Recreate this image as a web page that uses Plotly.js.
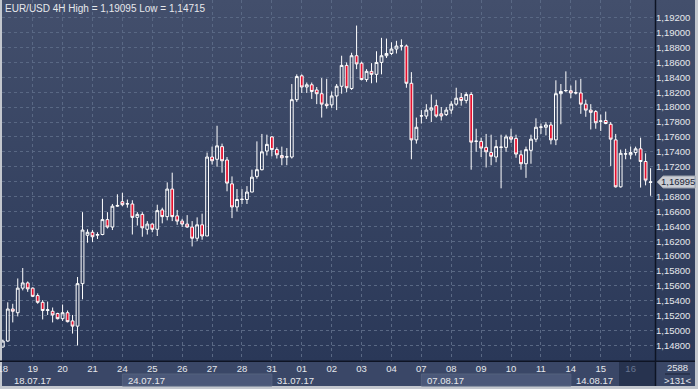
<!DOCTYPE html>
<html>
<head>
<meta charset="utf-8">
<script src="https://cdn.plot.ly/plotly-3.0.1.min.js"></script>
<style>
html,body{margin:0;padding:0;background:#c3c7ce;}
#chart{width:698px;height:389px;}
</style>
</head>
<body>
<div id="chart"></div>
<script>
// ---- data ----
const titleText = 'EUR/USD 4H High = 1,19095 Low = 1,14715';
const dayLabels = ['18','19','20','21','24','25','26','27','28','31','01','02','03','04','07','08','09','10','11','14','15','16'];
const weekLabels = ['18.07.17','24.07.17','31.07.17','07.08.17','14.08.17'];
const priceTicks = [1.148,1.150,1.152,1.154,1.156,1.158,1.160,1.162,1.164,1.166,1.168,1.170,1.172,1.174,1.176,1.178,1.180,1.182,1.184,1.186,1.188,1.190,1.192];
const lastPrice = 1.16995;
const barCount = '2588';
const visibleBars = '>131<';

const open = [
1.1478,1.1486,1.1529,1.1524,1.1557,1.1564,1.1557,1.1547,1.1538,1.1527,
1.1526,1.1523,1.1516,1.1524,1.1513,1.1506,1.1563,1.1628,1.1632,1.1628,
1.1629,1.1649,1.1639,1.1667,1.1673,1.1670,1.1670,1.1652,1.1656,1.1636,
1.1643,1.1636,1.1662,1.1653,1.1690,1.1654,1.1647,1.1643,1.1639,1.1624,
1.1642,1.1627,1.1733,1.1730,1.1747,1.1729,1.1697,1.1666,1.1676,1.1676,
1.1686,1.1707,1.1716,1.1741,1.1760,1.1743,1.1735,1.1733,1.1733,1.1810,
1.1842,1.1827,1.1830,1.1823,1.1818,1.1804,1.1803,1.1815,1.1828,1.1856,
1.1825,1.1869,1.1859,1.1837,1.1848,1.1844,1.1860,1.1869,1.1872,1.1878,
1.1882,1.1882,1.1832,1.1756,1.1788,1.1788,1.1796,1.1802,1.1791,1.1790,
1.1796,1.1804,1.1813,1.1809,1.1817,1.1754,1.1754,1.1746,1.1739,1.1733,
1.1746,1.1746,1.1760,1.1758,1.1736,1.1724,1.1742,1.1757,1.1773,1.1773,
1.1776,1.1756,1.1818,1.1822,1.1822,1.1819,1.1819,1.1804,1.1796,1.1794,
1.1781,1.1782,1.1777,1.1756,1.1693,1.1737,1.1736,1.1739,1.1744,1.1727,
1.16990];
const high = [
1.1488,1.1538,1.1536,1.1570,1.1584,1.1566,1.1558,1.1550,1.1541,1.1539,
1.1531,1.1524,1.1535,1.1527,1.1521,1.1572,1.1659,1.1636,1.1635,1.1632,
1.1677,1.1659,1.1670,1.1683,1.1685,1.1676,1.1675,1.1659,1.1659,1.1647,
1.1644,1.1669,1.1665,1.1699,1.1712,1.1662,1.1650,1.1655,1.1647,1.1652,
1.1657,1.1739,1.1747,1.1775,1.1751,1.1733,1.1707,1.1690,1.1690,1.1694,
1.1716,1.1754,1.1764,1.1763,1.1761,1.1746,1.1747,1.1745,1.1831,1.1844,
1.1844,1.1833,1.1833,1.1827,1.1839,1.1838,1.1821,1.1831,1.1869,1.1860,
1.1873,1.19095,1.1861,1.1851,1.1859,1.1875,1.1893,1.1892,1.1887,1.1889,
1.1891,1.1884,1.1847,1.1786,1.1796,1.1804,1.1817,1.1810,1.1800,1.1800,
1.1808,1.1826,1.1819,1.1820,1.1820,1.1771,1.1759,1.1764,1.1763,1.1756,
1.1763,1.1763,1.1771,1.1763,1.1742,1.1747,1.1763,1.1785,1.1778,1.1780,
1.1780,1.1836,1.1831,1.1848,1.1829,1.1836,1.1838,1.1810,1.1804,1.1796,
1.1790,1.1794,1.1780,1.1764,1.1743,1.1744,1.1747,1.1747,1.1759,1.1738,
1.1718];
const low = [
1.1477,1.1485,1.1511,1.1519,1.1554,1.1552,1.1545,1.1536,1.1515,1.1521,
1.1511,1.1515,1.1513,1.1511,1.1496,1.1480,1.1542,1.1618,1.1619,1.1623,
1.1628,1.1637,1.1635,1.1666,1.1667,1.1665,1.1629,1.1641,1.1626,1.1629,
1.1632,1.1627,1.1644,1.1648,1.1647,1.1642,1.1639,1.1638,1.1613,1.1620,
1.1622,1.1627,1.1723,1.1720,1.1712,1.1687,1.1651,1.1660,1.1670,1.1670,
1.1686,1.1704,1.1715,1.1735,1.1734,1.1731,1.1722,1.1722,1.1731,1.1807,
1.1819,1.1819,1.1811,1.1804,1.1786,1.1798,1.1799,1.1796,1.1818,1.1820,
1.1823,1.1851,1.1836,1.1834,1.1832,1.1833,1.1844,1.1866,1.1870,1.1872,
1.1876,1.1826,1.1730,1.1751,1.1778,1.1784,1.1780,1.1786,1.1782,1.1788,
1.1791,1.1802,1.1802,1.1805,1.1716,1.1740,1.1733,1.1719,1.1722,1.1726,
1.1691,1.1740,1.1752,1.1732,1.1716,1.1705,1.1724,1.1753,1.1764,1.1762,
1.1750,1.1749,1.1777,1.1820,1.1812,1.1817,1.1791,1.1787,1.1770,1.1771,
1.1768,1.1777,1.1721,1.1692,1.1692,1.1730,1.1730,1.1735,1.1692,1.1695,
1.1681];
const close = [
1.1486,1.1529,1.1526,1.1557,1.1564,1.1556,1.1546,1.1538,1.1527,1.1528,
1.1521,1.1516,1.1524,1.1512,1.1506,1.1563,1.1635,1.1632,1.1626,1.1629,
1.1649,1.1639,1.1667,1.1668,1.1669,1.16703,1.1652,1.1656,1.1638,1.1643,
1.1636,1.1661,1.1653,1.1690,1.1653,1.1647,1.1643,1.1639,1.1624,1.1642,
1.1627,1.1733,1.1728,1.1748,1.1728,1.1698,1.1666,1.1676,1.16763,1.1686,
1.1706,1.1716,1.1740,1.1750,1.1743,1.1736,1.1732,1.17333,1.1810,1.1841,
1.1827,1.1830,1.1821,1.1818,1.1804,1.1802,1.1815,1.1828,1.1856,1.1826,
1.1869,1.1858,1.1837,1.1848,1.1844,1.1860,1.1869,1.1872,1.1878,1.1882,
1.18823,1.1832,1.1756,1.1773,1.17883,1.1796,1.1799,1.1788,1.1788,1.1796,
1.1804,1.1812,1.1809,1.1817,1.1753,1.17543,1.1745,1.1740,1.1734,1.1747,
1.17463,1.1760,1.1757,1.1737,1.1724,1.1743,1.1757,1.1773,1.17733,1.1776,
1.1756,1.1818,1.1821,1.18223,1.1819,1.18193,1.1804,1.1796,1.1793,1.1779,
1.17813,1.1778,1.1757,1.1693,1.1738,1.17373,1.1739,1.1744,1.1727,1.1702,
1.16995];

// ---- geometry ----
const W = 698, H = 389;
const M = {l: 2, r: 43, t: 0, b: 28};
const PW = W - M.l - M.r, PH = H - M.t - M.b;
const xr = [-0.16, 130.89];
const yr = [1.14592, 1.19438];
const fx = px => (px - M.l) / PW;
const fy = py => (M.t + PH - py) / PH;
const kx = k => (k - xr[0]) / (xr[1] - xr[0]);          // index -> paper x
const py = p => M.t + PH * (yr[1] - p) / (yr[1] - yr[0]); // price -> pixel y
const perDay = 6;
const fmt = v => v.toFixed(5).replace('.', ',');

const idx = open.map((_, i) => i);
const tickvals = dayLabels.map((_, i) => i * perDay);
const ticktext = dayLabels.map((d, i) => i === dayLabels.length - 1 ? '<span style="color:#67758f">' + d + '</span>' : d);
// the price tag hides the tick label it covers
const yTickText = priceTicks.map(v => Math.abs(v - lastPrice) < 0.0012 ? '' : fmt(v));

const FONT = '"Liberation Sans", Arial, sans-serif';
const TXT = '#e6e8ec';

const bgSvg = 'data:image/svg+xml;utf8,' + encodeURIComponent(
 '<svg xmlns="http://www.w3.org/2000/svg" width="100" height="100" viewBox="0 0 100 100" preserveAspectRatio="none">' +
 '<defs><linearGradient id="g" x1="0" y1="0" x2="0" y2="1"><stop offset="0" stop-color="#434f6c"/><stop offset="1" stop-color="#2a3858"/></linearGradient></defs>' +
 '<rect width="100" height="100" fill="url(#g)"/></svg>');

const shapes = [
  {type:'rect', xref:'paper', yref:'paper', x0:fx(2), x1:fx(695), y0:fy(386), y1:fy(361), fillcolor:'#3a4767', line:{width:0}, layer:'below'}
];
const annotations = [
  {xref:'paper', yref:'paper', x:fx(3), y:fy(8), xanchor:'left', yanchor:'middle', text:titleText, showarrow:false, font:{family:FONT, size:10, color:TXT}}
];
weekLabels.forEach((w, i) => {
  const d = dayLabels.indexOf(w.slice(0, 2));
  const k0 = d * perDay;
  const nextD = i + 1 < weekLabels.length ? dayLabels.indexOf(weekLabels[i + 1].slice(0, 2)) : dayLabels.length;
  if (i % 2 === 1) {
    shapes.push({type:'rect', xref:'paper', yref:'paper', x0:kx(k0), x1:kx(nextD * perDay), y0:fy(386), y1:fy(374), fillcolor:'#4b5879', line:{color:'#55627f', width:1}, layer:'below'});
  }
  const xpos = i === 0 ? fx(12) : kx(k0) + 3.5 / PW;
  annotations.push({xref:'paper', yref:'paper', x:xpos, y:fy(380.5), xanchor:'left', yanchor:'middle', text:w, showarrow:false, font:{family:FONT, size:9.5, color:TXT}});
});
// current-day dark box
shapes.push({type:'rect', xref:'paper', yref:'paper', x0:fx(619), x1:fx(655), y0:fy(386), y1:fy(362), fillcolor:'#27334f', line:{width:0}, layer:'below'});
// separators
shapes.push({type:'line', xref:'paper', yref:'paper', x0:fx(655.5), x1:fx(655.5), y0:fy(0), y1:fy(386), line:{color:'#0e1424', width:1.5}});
shapes.push({type:'line', xref:'paper', yref:'paper', x0:fx(0), x1:fx(695), y0:fy(361.3), y1:fy(361.3), line:{color:'#0e1424', width:1.5}});
shapes.push({type:'line', xref:'paper', yref:'paper', x0:fx(665), x1:fx(690), y0:fy(374), y1:fy(374), line:{color:'#1a2236', width:1}});
// last price tag
const ly = py(lastPrice);
shapes.push({type:'path', xref:'paper', yref:'paper',
  path:`M ${fx(657)} ${fy(ly)} L ${fx(663)} ${fy(ly-6)} L ${fx(695)} ${fy(ly-6)} L ${fx(695)} ${fy(ly+6)} L ${fx(663)} ${fy(ly+6)} Z`,
  fillcolor:'#c9ccd3', line:{color:'#9aa0ab', width:1}});
annotations.push({xref:'paper', yref:'y', x:fx(678), y:lastPrice, xanchor:'center', yanchor:'middle', text:fmt(lastPrice), showarrow:false, font:{family:FONT, size:9.5, color:'#1c2436'}});
annotations.push({xref:'paper', yref:'paper', x:fx(677), y:fy(367.5), xanchor:'center', yanchor:'middle', text:barCount, showarrow:false, font:{family:FONT, size:9.5, color:TXT}});
annotations.push({xref:'paper', yref:'paper', x:fx(677), y:fy(381), xanchor:'center', yanchor:'middle', text:visibleBars, showarrow:false, font:{family:FONT, size:9.5, color:TXT}});

const trace = {
  type:'candlestick', x:idx, open:open, high:high, low:low, close:close,
  increasing:{line:{color:'#ffffff', width:1}, fillcolor:'rgba(0,0,0,0)'},
  decreasing:{line:{color:'#ffffff', width:1}, fillcolor:'#e5102e'},
  whiskerwidth:0, hoverinfo:'skip'
};

const layout = {
  width:W, height:H, margin:M,
  paper_bgcolor:'#c3c7ce', plot_bgcolor:'rgba(0,0,0,0)',
  separators:',.', showlegend:false, boxgap:0.2,
  images:[{source:bgSvg, xref:'paper', yref:'paper', x:fx(2), y:fy(0), sizex:fx(695)-fx(2), sizey:fy(0)-fy(361), sizing:'stretch', xanchor:'left', yanchor:'top', layer:'below'}],
  xaxis:{range:xr, tickmode:'array', tickvals:tickvals, ticktext:ticktext, showgrid:true, gridcolor:'#596884', griddash:'3px,3px', gridwidth:1,
    zeroline:false, showline:false, ticks:'', tickfont:{family:FONT, size:9.5, color:TXT}, rangeslider:{visible:false}, fixedrange:true, tickangle:0,
    ticklabeloverflow:'allow'},
  yaxis:{side:'right', range:yr, tickmode:'array', tickvals:priceTicks, ticktext:yTickText, showgrid:true, gridcolor:'#596884', griddash:'3px,3px', gridwidth:1,
    zeroline:false, showline:false, ticks:'', tickfont:{family:FONT, size:9.5, color:TXT}, fixedrange:true},
  shapes:shapes, annotations:annotations
};

Plotly.newPlot('chart', [trace], layout, {staticPlot:true, displayModeBar:false});
</script>
</body>
</html>
